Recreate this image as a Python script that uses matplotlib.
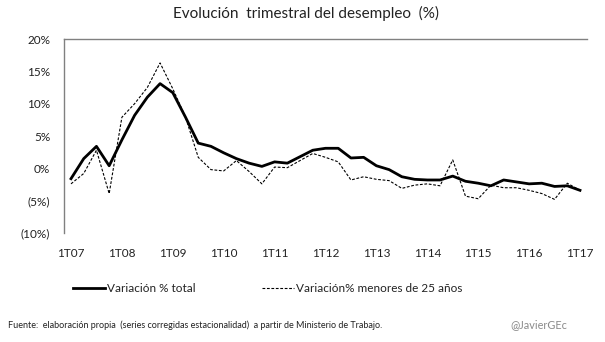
import matplotlib
matplotlib.use("Agg")
import matplotlib.pyplot as plt
import numpy as np

plt.rcParams['font.family'] = ['Lato', 'DejaVu Sans']

years = ['1T07', '1T08', '1T09', '1T10', '1T11', '1T12', '1T13', '1T14', '1T15', '1T16', '1T17']

total = [-1.6, 1.5, 3.4, 0.4, 4.4, 8.2, 11.0, 13.1, 11.7, 7.9, 3.9, 3.4, 2.4, 1.5, 0.8,
         0.3, 1.0, 0.8, 1.8, 2.8, 3.1, 3.1, 1.6, 1.7, 0.4, -0.2, -1.3, -1.7, -1.8, -1.8,
         -1.2, -2.0, -2.3, -2.7, -1.8, -2.1, -2.4, -2.3, -2.8, -2.7, -3.4]

young = [-2.4, -0.8, 2.8, -3.9, 7.9, 10.0, 12.5, 16.3, 12.3, 7.9, 1.7, -0.2, -0.4, 1.2, -0.5,
         -2.4, 0.2, 0.1, 1.2, 2.3, 1.7, 1.0, -1.8, -1.3, -1.7, -1.9, -3.1, -2.6, -2.4, -2.7,
         1.3, -4.3, -4.7, -2.6, -3.0, -3.0, -3.4, -3.9, -4.8, -2.3, -3.4]

yticks = [20, 15, 10, 5, 0, -5, -10]
ytick_labels = ['20%', '15%', '10%', '5%', '0%', '(5%)', '(10%)']

fig = plt.figure(figsize=(6.05, 3.42), dpi=100)
ax = fig.add_axes([64/605, 1-233/342, (587-64)/605, (233-39)/342])

x = np.arange(len(total))
l1, = ax.plot(x, total, color='black', lw=2.0, solid_joinstyle='round', label='Variación % total')
l2, = ax.plot(x, young, color='black', lw=0.8, dashes=(2.5, 1.5), label='Variación% menores de 25 años')

ax.set_xlim(-0.55, 40.55)
ax.set_ylim(-10, 20)
ax.set_yticks(yticks)
ax.set_yticklabels(ytick_labels)
ax.set_xticks(np.arange(0, len(total), 4))
ax.set_xticklabels(years)
ax.tick_params(axis='both', length=0, labelsize=8.5, colors='#222222')
ax.tick_params(axis='x', pad=11)
ax.tick_params(axis='y', pad=10)

for s in ['right', 'bottom']:
    ax.spines[s].set_visible(False)
for s in ['left', 'top']:
    ax.spines[s].set_color('#808080')
    ax.spines[s].set_linewidth(1.0)

fig.text(306/605, 1-13/342, 'Evolución  trimestral del desempleo  (%)', ha='center', va='center',
         fontsize=11, color='#222222')

fig.legend(handles=[l1, l2], loc='center left', bbox_to_anchor=(73/605, 1-289/342), ncol=2,
           frameon=False, fontsize=8.5, handlelength=2.7, handletextpad=0.2, columnspacing=5.6,
           borderpad=0, borderaxespad=0, labelcolor='#222222')

fig.text(8/605, 1-325/342, 'Fuente:  elaboración propia  (series corregidas estacionalidad)  a partir de Ministerio de Trabajo.',
         ha='left', va='center', fontsize=6.5, color='#222222')
fig.text(510/605, 1-325/342, '@JavierGEc', ha='left', va='center', fontsize=7.8, color='#8a8a8a')

fig.savefig('out.png', dpi=100)
